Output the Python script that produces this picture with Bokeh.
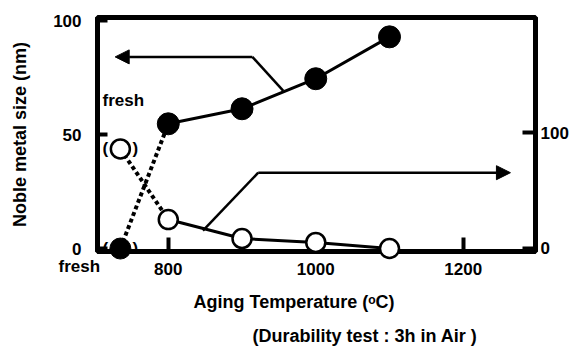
from bokeh.plotting import figure
from bokeh.models import Range1d, LinearAxis, FixedTicker, Label, Arrow, NormalHead, Title
from bokeh.core.properties import value
from bokeh.embed import file_html
from bokeh.resources import INLINE

# ---- data ----
temps = [800, 900, 1000, 1100]          # aging temperature (C)
fresh_x = 735                            # position of the "fresh" sample
size_nm = [54.8, 61.4, 74.6, 93.0]       # noble metal size (left axis)
size_fresh = 0
right_vals = [25.0, 8.6, 5.2, 0.0]       # right-axis quantity
right_fresh = 86.0
x_ticks = [800, 1000, 1200]
x_minor = [900, 1100]
left_ticks = [0, 50, 100]
right_ticks = [0, 100]

FONT = "Liberation Sans"

p = figure(width=574, height=346, output_backend="svg", toolbar_location=None,
           x_range=Range1d(704, 1298), y_range=Range1d(-1.3, 101.5),
           min_border_left=97, min_border_right=39, min_border_top=17, min_border_bottom=95,
           y_axis_location=None, x_axis_location=None)
p.extra_y_ranges = {"right": Range1d(-2.6, 199.6)}
p.grid.visible = False
p.outline_line_color = "black"
p.outline_line_width = 5
p.background_fill_color = "white"
p.border_fill_color = "white"

def style_axis(ax, tick_in):
    ax.axis_line_width = 5
    ax.axis_line_color = "black"
    ax.major_tick_in = tick_in
    ax.major_tick_out = 0
    ax.major_tick_line_width = 4
    ax.minor_tick_in = 13
    ax.minor_tick_out = 0
    ax.minor_tick_line_width = 5
    ax.major_label_text_font = FONT
    ax.major_label_text_font_style = "bold"
    ax.major_label_text_font_size = "17px"
    ax.major_label_text_color = "black"
    ax.axis_label_text_font = FONT
    ax.axis_label_text_font_style = "bold"
    ax.axis_label_text_font_size = "18px"
    ax.axis_label_text_color = "black"

xa = LinearAxis(ticker=FixedTicker(ticks=x_ticks, minor_ticks=x_minor))
style_axis(xa, 14)
xa.major_label_standoff = 11
p.add_layout(xa, "below")

ya = LinearAxis(ticker=FixedTicker(ticks=left_ticks), axis_label="Noble metal size (nm)")
style_axis(ya, 10)
ya.major_label_standoff = 16
ya.axis_label_standoff = 20
ya.minor_tick_line_color = None
p.add_layout(ya, "left")

ra = LinearAxis(ticker=FixedTicker(ticks=right_ticks), y_range_name="right")
style_axis(ra, 13)
ra.major_label_standoff = 5
ra.minor_tick_line_color = None
p.add_layout(ra, "right")

# "fresh" caption on the x-axis row, left of the origin
p.add_layout(Title(text="fresh", align="left", offset=-39, vertical_align="top",
                   text_font=FONT, text_font_style="bold", text_font_size="17px",
                   text_color="black", standoff=-41), "below")
# x-axis title and test-condition note
p.add_layout(Title(text="Aging Temperature (ᵒC)", align="left", offset=96,
                   text_font=FONT, text_font_style="bold", text_font_size="18px",
                   text_color="black", standoff=24), "below")
p.add_layout(Title(text="(Durability test : 3h in Air )", align="left", offset=155,
                   text_font=FONT, text_font_style="bold", text_font_size="18px",
                   text_color="black", standoff=-44), "below")

# dotted links from fresh to 800
p.line([fresh_x, temps[0]], [size_fresh, size_nm[0]], line_width=4, line_dash="4 3", color="black")
p.line([fresh_x, temps[0]], [right_fresh, right_vals[0]], line_width=4, line_dash="4 3",
       color="black", y_range_name="right")

# solid series lines
p.line(temps, size_nm, line_width=3, color="black")
p.line(temps, right_vals, line_width=3, color="black", y_range_name="right")

# arrows
p.line([914, 956], [84.2, 69.3], line_width=2.5, color="black")
p.add_layout(Arrow(end=NormalHead(size=14, fill_color="black", line_color="black"),
                   x_start=914, y_start=84.2, x_end=728, y_end=84.2,
                   line_width=2.5, line_color="black"))
p.line([847, 922], [15.5, 65.5], line_width=2.5, color="black", y_range_name="right")
p.add_layout(Arrow(end=NormalHead(size=14, fill_color="black", line_color="black"),
                   x_start=922, y_start=65.5, x_end=1264, y_end=65.5,
                   line_width=2.5, line_color="black", y_range_name="right"))

# markers (drawn above the axis lines)
p.scatter(temps, size_nm, size=22, marker="circle", fill_color="black", line_color="black",
          level="overlay")
p.scatter([fresh_x], [size_fresh], size=21, marker="circle", fill_color="black", line_color="black",
          level="overlay")
p.scatter(temps, right_vals, size=19, marker="circle", fill_color="white", line_color="black",
          line_width=2.5, y_range_name="right", level="overlay")
p.scatter([fresh_x], [right_fresh], size=19, marker="circle", fill_color="white", line_color="black",
          line_width=2.5, y_range_name="right", level="overlay")

# parentheses around fresh points
for yv, rng in [(size_fresh, "default"), (right_fresh, "right")]:
    for t, dx in [("(", -15), (")", 15)]:
        p.text([fresh_x], [yv], text=[t], x_offset=dx, text_align="center", text_baseline="middle",
               text_font=value(FONT), text_font_style="bold", text_font_size="17px",
               text_color="black", y_range_name=rng)

# "fresh" note above the fresh sample
p.add_layout(Label(x=fresh_x, y=64.9, text="fresh", x_offset=3, text_align="center",
                   text_baseline="middle", text_font=FONT, text_font_style="bold",
                   text_font_size="17px", text_color="black"))

open("out.html", "w").write(file_html(p, INLINE))
